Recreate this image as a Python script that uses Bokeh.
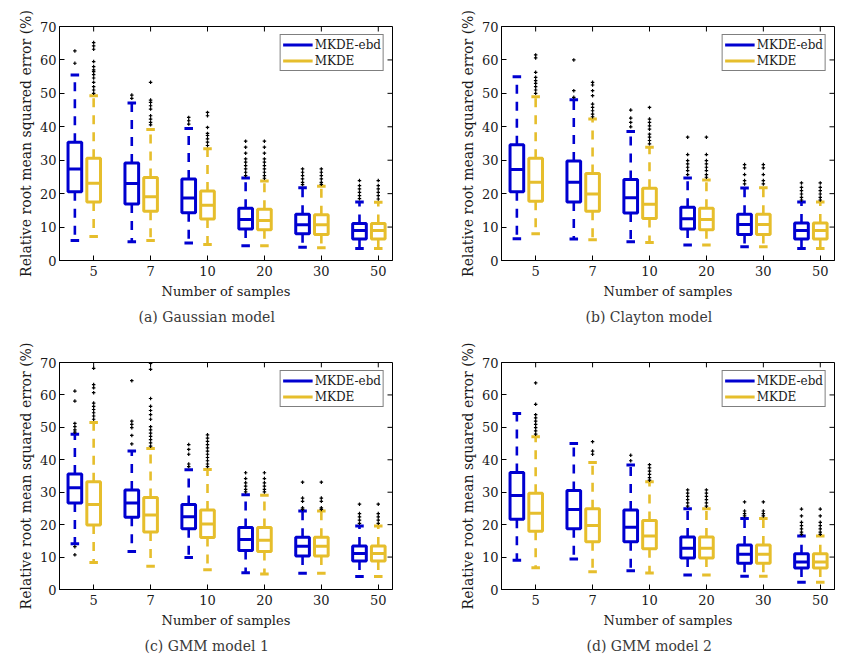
from bokeh.plotting import figure
from bokeh.models import (Range1d, FixedTicker, Legend, LegendItem, Title, ColumnDataSource)
from bokeh.layouts import column, row
from bokeh.embed import file_html
from bokeh.resources import INLINE

categories = ["5", "7", "10", "20", "30", "50"]
series_names = ["MKDE-ebd", "MKDE"]
y_ticks = [0, 10, 20, 30, 40, 50, 60, 70]
captions = ["(a) Gaussian model", "(b) Clayton model", "(c) GMM model 1", "(d) GMM model 2"]

# (a) Gaussian model
ga_ebd_hi = [55.5, 47.1, 39.5, 24.7, 21.8, 17.5]
ga_ebd_q3 = [35.4, 29.2, 24.4, 15.6, 13.8, 11.1]
ga_ebd_med = [27.4, 23.0, 18.7, 12.3, 10.7, 9.0]
ga_ebd_q1 = [20.6, 16.9, 14.3, 9.4, 8.0, 6.4]
ga_ebd_lo = [6.0, 5.6, 5.2, 4.4, 4.0, 3.6]
ga_ebd_out = [[62.7, 59.0], [49.5, 48.5], [42.8, 41.8, 40.8],
              [35.7, 33.9, 32.1, 30.4, 29.4, 28.4, 27.4, 26.4, 25.4],
              [27.4, 26.4, 25.4, 24.4, 23.4, 22.7], [23.9, 22.4, 21.4, 20.4, 19.4, 18.5]]
ga_mk_hi = [49.3, 39.2, 33.4, 23.8, 22.2, 17.4]
ga_mk_q3 = [30.6, 24.8, 20.8, 15.3, 13.7, 11.1]
ga_mk_med = [23.1, 19.1, 16.5, 12.0, 10.7, 9.0]
ga_mk_q1 = [17.5, 14.7, 12.4, 9.2, 7.8, 6.4]
ga_mk_lo = [7.2, 6.0, 4.8, 4.4, 3.8, 3.6]
ga_mk_out = [[65.2, 64.2, 63.2, 59.5, 58.0, 57.0, 56.5, 55.6, 54.6, 53.3, 52.0, 51.0, 50.0],
             [53.3, 48.0, 47.3, 46.3, 45.3, 43.3, 42.3, 41.3, 40.6],
             [44.3, 43.3, 39.8, 38.0, 37.4, 36.4, 35.4, 34.4],
             [35.7, 33.9, 32.1, 30.4, 29.4, 28.4, 27.4, 26.4, 25.4, 24.6],
             [27.4, 26.4, 25.4, 24.4, 23.4, 22.8], [23.9, 22.4, 21.4, 20.4, 19.4, 18.4]]

# (b) Clayton model
cl_ebd_hi = [55.0, 48.1, 38.6, 24.7, 21.7, 17.5]
cl_ebd_q3 = [34.6, 29.8, 24.2, 15.9, 13.8, 11.2]
cl_ebd_med = [27.2, 23.4, 18.8, 12.5, 10.8, 9.0]
cl_ebd_q1 = [20.6, 17.5, 14.2, 9.4, 7.8, 6.4]
cl_ebd_lo = [6.5, 6.4, 5.6, 4.6, 4.1, 3.6]
cl_ebd_out = [[], [60.0, 50.8, 48.8], [45.0, 42.6, 41.3, 40.0],
              [36.9, 31.7, 29.9, 28.9, 27.9, 26.9, 25.7],
              [28.7, 27.7, 25.7, 23.9, 22.9], [23.2, 21.9, 20.9, 19.9, 18.9, 18.1]]
cl_mk_hi = [49.0, 42.3, 33.9, 24.1, 21.8, 17.5]
cl_mk_q3 = [30.6, 26.0, 21.6, 15.6, 13.8, 11.2]
cl_mk_med = [23.4, 19.9, 16.8, 12.3, 10.8, 9.0]
cl_mk_q1 = [17.7, 14.7, 12.6, 9.2, 7.8, 6.4]
cl_mk_lo = [8.0, 6.2, 5.4, 4.6, 4.1, 3.6]
cl_mk_out = [[61.5, 60.6, 56.3, 54.8, 53.8, 53.0, 52.0, 51.0, 50.0],
             [53.3, 52.5, 50.8, 49.3, 46.8, 45.8, 44.8, 43.8, 43.0],
             [45.8, 42.3, 41.3, 40.3, 39.3, 37.8, 36.9, 35.9, 34.9],
             [36.9, 31.7, 29.9, 28.9, 27.9, 26.9, 25.7, 24.9],
             [28.7, 27.7, 25.7, 23.9, 22.9], [23.2, 21.9, 20.9, 19.9, 18.9, 18.1]]

# (c) GMM model 1
g1_ebd_hi = [47.9, 42.7, 36.9, 29.2, 24.2, 19.6]
g1_ebd_q3 = [35.6, 30.7, 26.2, 19.1, 16.1, 13.4]
g1_ebd_med = [31.4, 26.7, 22.4, 15.4, 13.3, 11.1]
g1_ebd_q1 = [26.7, 22.3, 18.7, 12.0, 10.3, 8.8]
g1_ebd_lo = [14.1, 11.7, 9.9, 5.2, 5.0, 4.0]
g1_ebd_out = [[61.2, 58.1, 51.2, 50.2, 49.2, 48.5, 13.2, 10.7],
              [64.4, 51.9, 50.9, 49.9, 47.5, 44.9], [44.7, 43.2, 41.7, 38.7, 37.9],
              [36.0, 34.2, 32.9, 31.9, 30.9, 30.1], [33.1, 28.2, 27.2, 25.2, 24.7],
              [26.3, 23.4, 22.4, 21.4, 20.4]]
g1_mk_hi = [51.5, 43.5, 37.0, 29.1, 24.2, 19.6]
g1_mk_q3 = [33.2, 28.4, 24.5, 19.1, 16.1, 13.4]
g1_mk_med = [26.2, 23.0, 20.2, 15.2, 13.3, 11.1]
g1_mk_q1 = [19.9, 17.7, 16.0, 11.7, 10.3, 8.8]
g1_mk_lo = [8.3, 7.2, 6.1, 4.8, 5.0, 4.0]
g1_mk_out = [[68.2, 63.2, 62.2, 60.7, 57.5, 56.5, 55.5, 54.5, 53.5, 52.5],
             [69.7, 67.9, 58.9, 56.5, 55.2, 53.9, 52.5, 50.2, 49.2, 48.2, 47.2, 46.2, 45.2, 44.2],
             [47.7, 46.7, 45.7, 44.7, 43.7, 42.7, 41.7, 40.7, 39.7, 38.7, 37.9],
             [36.0, 34.2, 32.9, 31.9, 30.9, 30.1], [33.1, 28.2, 27.2, 25.2, 24.7],
             [26.3, 23.4, 22.4, 21.4, 20.4]]

# (d) GMM model 2
g2_ebd_hi = [54.3, 45.0, 38.4, 24.9, 21.9, 16.5]
g2_ebd_q3 = [36.1, 30.5, 24.5, 16.2, 13.7, 11.0]
g2_ebd_med = [29.0, 24.7, 19.2, 12.7, 10.9, 8.5]
g2_ebd_q1 = [21.7, 18.7, 14.7, 9.7, 8.1, 6.6]
g2_ebd_lo = [9.0, 9.4, 5.8, 4.5, 4.1, 2.2]
g2_ebd_out = [[], [], [41.4, 39.7], [30.7, 29.7, 28.7, 27.7, 26.7, 25.7],
              [27.0, 24.2, 23.4, 22.7], [24.8, 22.7, 20.7, 19.7, 18.7, 17.7, 17.0]]
g2_mk_hi = [47.1, 39.2, 33.2, 24.9, 21.9, 16.5]
g2_mk_q3 = [29.7, 24.9, 21.3, 16.2, 13.7, 11.0]
g2_mk_med = [23.5, 19.7, 16.5, 12.7, 10.9, 8.5]
g2_mk_q1 = [18.0, 14.7, 12.6, 9.7, 8.1, 6.6]
g2_mk_lo = [6.7, 5.5, 5.1, 4.5, 4.1, 2.2]
g2_mk_out = [[63.7, 57.1, 53.9, 52.9, 51.9, 50.9, 49.9, 48.9, 47.9], [45.6, 42.7, 41.7],
             [38.5, 37.5, 36.5, 35.5, 34.5, 33.7], [30.7, 29.7, 28.7, 27.7, 26.7, 25.7],
             [27.0, 24.2, 23.4, 22.7], [24.8, 22.7, 20.7, 19.7, 18.7, 17.7, 17.0]]

BLUE = "#0000D0"
YELLOW = "#E6BE2C"
FONT = "DejaVu Serif"
TXT = "#1a1a1a"

X0, X1 = -0.6, 5.25
Y0, Y1 = 0, 70
FRAME_W, FRAME_H = 333, 234
TICK_PX = 5

BOX_W = 0.24
CAP_W = 0.15
OFFSETS = [-0.33, 0.0]


def draw_series(p, k_off, color, hi, q3, med, q1, lo, out):
    xs = [i + k_off for i in range(len(categories))]
    src = ColumnDataSource(dict(
        x=xs, left=[x - BOX_W / 2 for x in xs], right=[x + BOX_W / 2 for x in xs],
        cl=[x - CAP_W / 2 for x in xs], cr=[x + CAP_W / 2 for x in xs],
        hi=hi, q3=q3, med=med, q1=q1, lo=lo))
    p.segment(x0="x", y0="q3", x1="x", y1="hi", source=src, line_color=color,
              line_width=2.6, line_dash="9 8")
    p.segment(x0="x", y0="q1", x1="x", y1="lo", source=src, line_color=color,
              line_width=2.6, line_dash="9 8")
    p.segment(x0="cl", y0="hi", x1="cr", y1="hi", source=src, line_color=color, line_width=3)
    p.segment(x0="cl", y0="lo", x1="cr", y1="lo", source=src, line_color=color, line_width=3)
    p.quad(left="left", right="right", top="q3", bottom="q1", source=src,
           fill_color=None, line_color=color, line_width=3)
    r_med = p.segment(x0="left", y0="med", x1="right", y1="med", source=src,
                      line_color=color, line_width=3)
    ox, oy = [], []
    for i, vals in enumerate(out):
        for v in vals:
            ox.append(i + k_off)
            oy.append(v)
    p.scatter(ox, oy, marker="cross", size=3.5, line_color="black", line_width=1.2)
    return r_med


def mirror_ticks(p):
    # inner tick marks on the right and top edges (MATLAB "box on")
    dx = TICK_PX * (X1 - X0) / FRAME_W
    dy = TICK_PX * (Y1 - Y0) / FRAME_H
    xt = list(range(len(categories)))
    p.segment(x0=[X1] * len(y_ticks), x1=[X1 - dx] * len(y_ticks), y0=y_ticks, y1=y_ticks,
              line_color="black", line_width=1)
    p.segment(x0=xt, x1=xt, y0=[Y1] * len(xt), y1=[Y1 - dy] * len(xt),
              line_color="black", line_width=1)


def make_panel(data_ebd, data_mk, caption, cap_off, width, height, bl, br, bt, bb):
    p = figure(width=width, height=height, output_backend="svg", toolbar_location=None,
               x_range=Range1d(X0, X1), y_range=Range1d(Y0, Y1),
               min_border_left=bl, min_border_right=br, min_border_top=bt,
               min_border_bottom=bb)
    p.xgrid.visible = False
    p.ygrid.visible = False
    p.outline_line_color = "black"
    p.outline_line_width = 1
    p.background_fill_color = "white"
    p.border_fill_color = "white"

    mirror_ticks(p)
    r1 = draw_series(p, OFFSETS[0], BLUE, *data_ebd)
    r2 = draw_series(p, OFFSETS[1], YELLOW, *data_mk)

    p.xaxis.ticker = FixedTicker(ticks=list(range(len(categories))))
    p.xaxis.major_label_overrides = {i: c for i, c in enumerate(categories)}
    p.yaxis.ticker = FixedTicker(ticks=y_ticks)
    p.xaxis.axis_label = "Number of samples"
    p.yaxis.axis_label = "Relative root mean squared error (%)"
    p.xaxis.major_tick_in = TICK_PX
    p.xaxis.major_tick_out = 0
    p.yaxis.major_tick_in = TICK_PX
    p.yaxis.major_tick_out = 0
    p.axis.minor_tick_line_color = None
    p.axis.axis_line_color = "black"
    p.axis.major_tick_line_color = "black"
    p.axis.major_label_text_font = FONT
    p.axis.major_label_text_font_size = "13px"
    p.axis.major_label_text_color = TXT
    p.axis.axis_label_text_font = FONT
    p.axis.axis_label_text_font_style = "normal"
    p.axis.axis_label_text_color = TXT
    p.xaxis.axis_label_text_font_size = "13px"
    p.yaxis.axis_label_text_font_size = "14px"
    p.yaxis.major_label_standoff = 3
    p.yaxis.axis_label_standoff = 3
    p.xaxis.major_label_standoff = 5
    p.xaxis.axis_label_standoff = 5

    legend = Legend(items=[LegendItem(label=series_names[0], renderers=[r1]),
                           LegendItem(label=series_names[1], renderers=[r2])],
                    location="top_right",
                    label_text_font=FONT, label_text_font_size="12px",
                    label_text_color=TXT, border_line_color="black", border_line_width=1,
                    background_fill_color="white", background_fill_alpha=1,
                    glyph_width=30, glyph_height=15, label_height=15, label_standoff=2,
                    spacing=1, padding=2, margin=8)
    p.add_layout(legend)

    cap = Title(text=caption, align="left", offset=cap_off, text_font=FONT,
                text_font_size="14px", text_font_style="normal", text_color="#3a3a3a")
    p.add_layout(cap, "below")
    return p


pa = make_panel((ga_ebd_hi, ga_ebd_q3, ga_ebd_med, ga_ebd_q1, ga_ebd_lo, ga_ebd_out),
                (ga_mk_hi, ga_mk_q3, ga_mk_med, ga_mk_q1, ga_mk_lo, ga_mk_out),
                captions[0], 79, 428, 338, 59, 36, 26, 78)
pb = make_panel((cl_ebd_hi, cl_ebd_q3, cl_ebd_med, cl_ebd_q1, cl_ebd_lo, cl_ebd_out),
                (cl_mk_hi, cl_mk_q3, cl_mk_med, cl_mk_q1, cl_mk_lo, cl_mk_out),
                captions[1], 84, 414, 338, 73, 8, 26, 78)
pc = make_panel((g1_ebd_hi, g1_ebd_q3, g1_ebd_med, g1_ebd_q1, g1_ebd_lo, g1_ebd_out),
                (g1_mk_hi, g1_mk_q3, g1_mk_med, g1_mk_q1, g1_mk_lo, g1_mk_out),
                captions[2], 85, 428, 320, 59, 36, 24, 62)
pd_ = make_panel((g2_ebd_hi, g2_ebd_q3, g2_ebd_med, g2_ebd_q1, g2_ebd_lo, g2_ebd_out),
                 (g2_mk_hi, g2_mk_q3, g2_mk_med, g2_mk_q1, g2_mk_lo, g2_mk_out),
                 captions[3], 85, 414, 320, 73, 8, 24, 62)

layout = column(row(pa, pb), row(pc, pd_))
open("out.html", "w").write(file_html(layout, INLINE))
